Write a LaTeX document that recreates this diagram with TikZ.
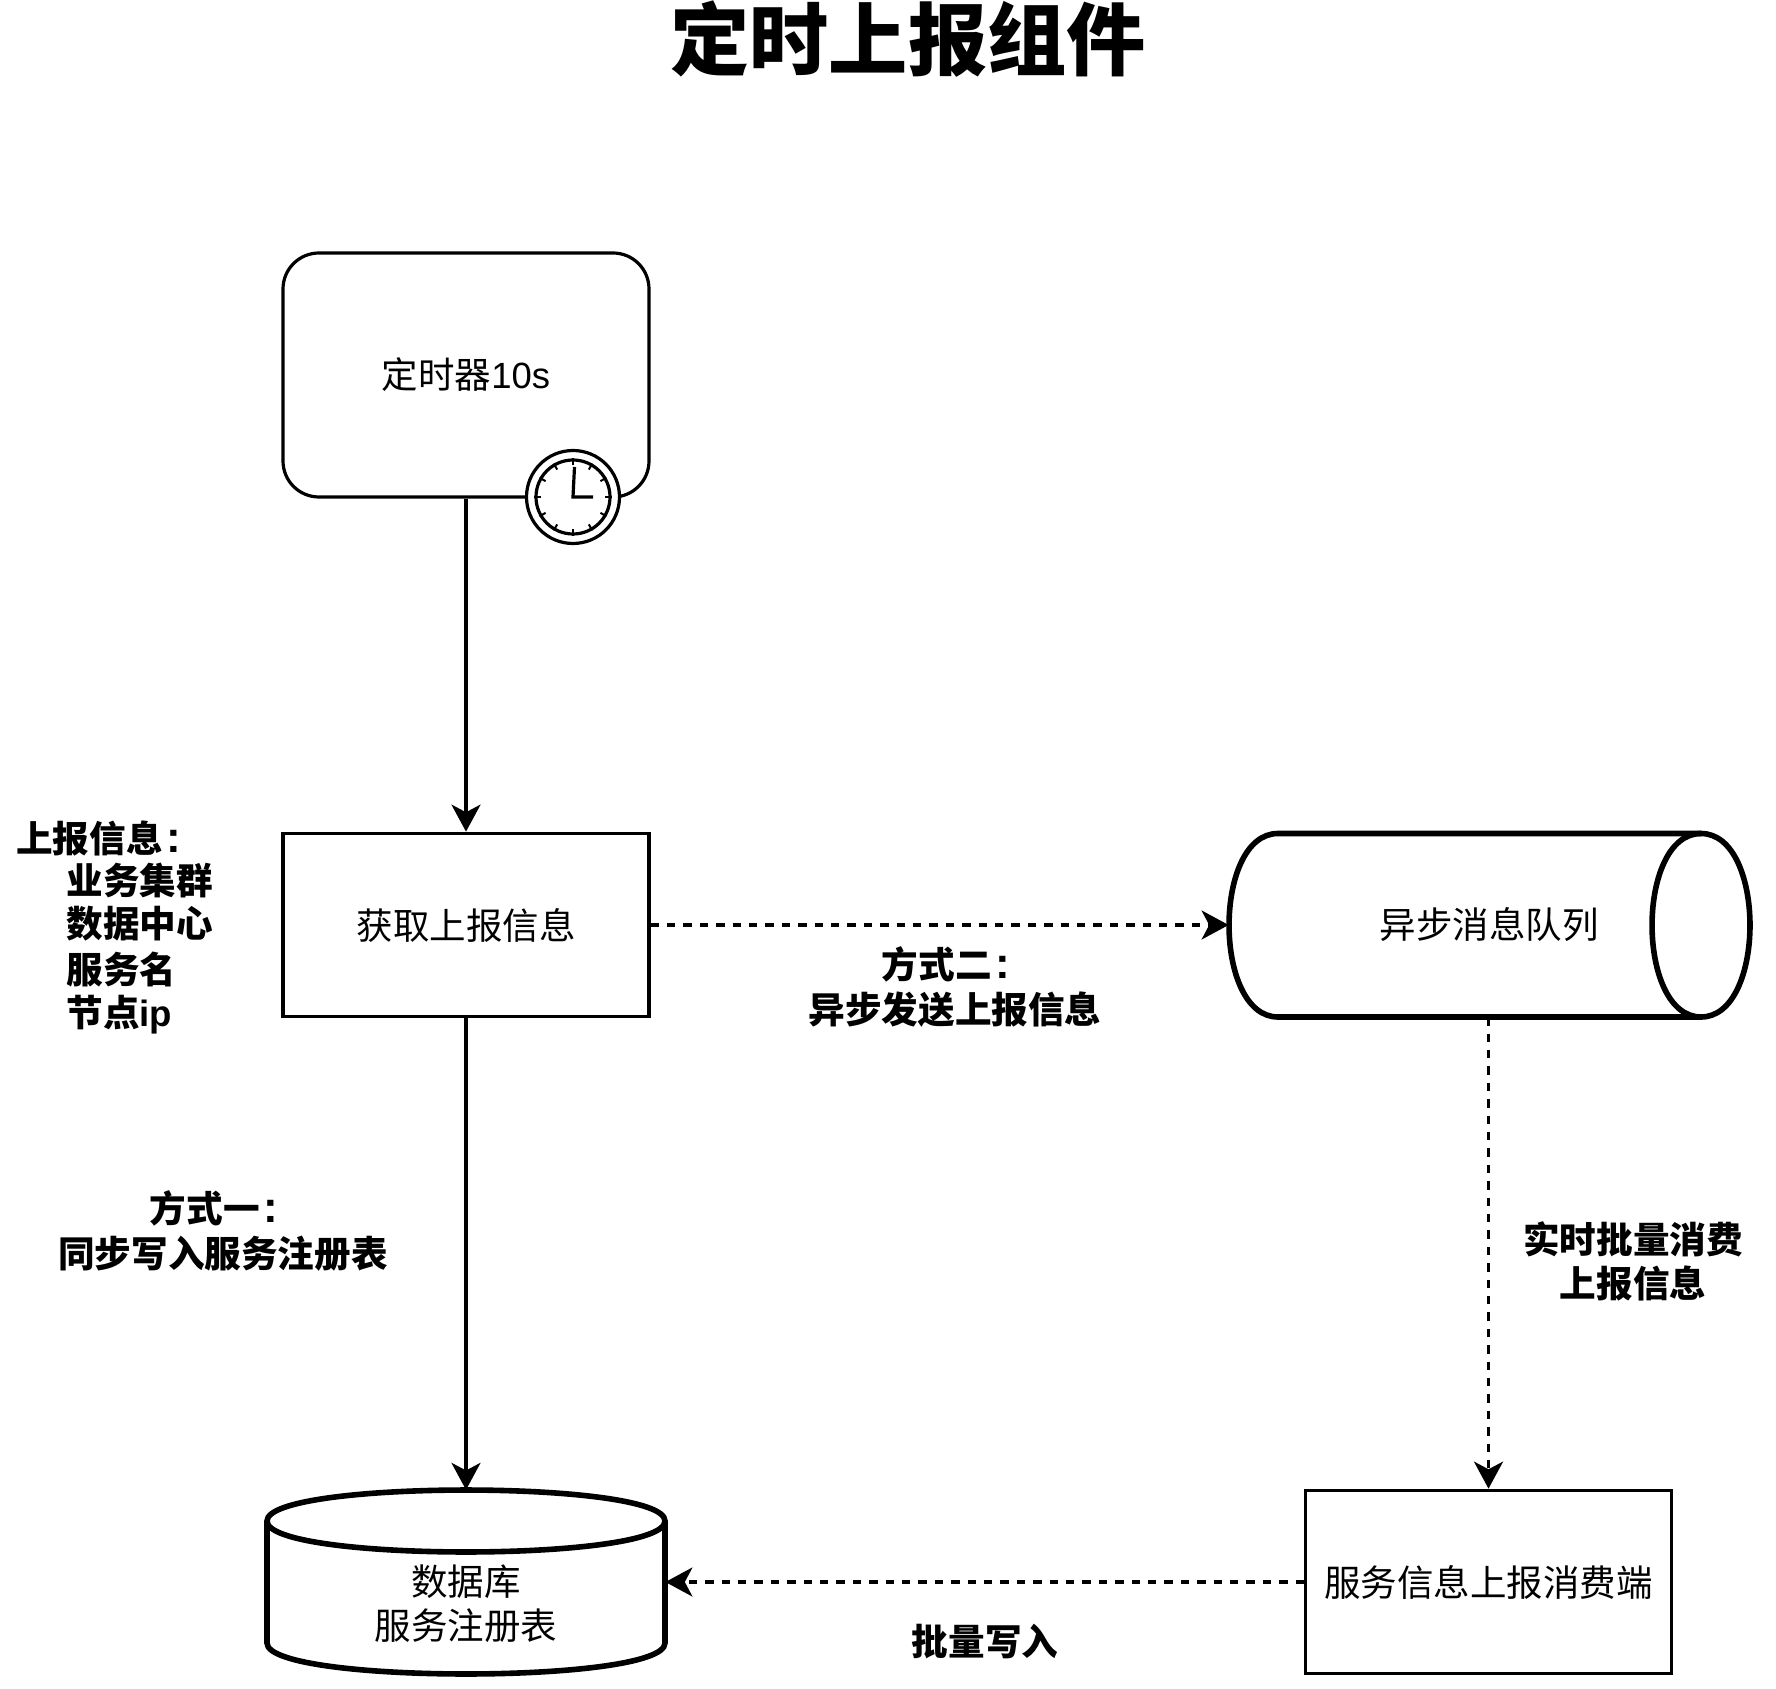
\documentclass[tikz,border=0pt]{standalone}
\usepackage{fontspec}
\usetikzlibrary{arrows.meta,calc}
\setmainfont{Liberation Sans}
\newfontfamily\cjk{Noto Sans CJK SC}
\newcommand{\wcolon}{\makebox[1em][l]{\hspace{0.1em}\rmfamily\bfseries\fontsize{22}{22}\selectfont :}}
\tikzset{
  x=0.5pt,y=-0.5pt,
  thinline/.style={line width=1.6pt,draw=black},
  thickline/.style={line width=2.8pt,draw=black},
  plainbox/.style={thinline,fill=white,minimum width=183pt,minimum height=91.75pt,inner sep=0pt},
  blank/.style={minimum width=183pt,minimum height=91.75pt,inner sep=0pt},
  body/.style={font=\fontsize{18.25}{22.1}\selectfont\cjk,align=center},
  note/.style={font=\fontsize{18.3}{22.1}\selectfont\cjk\bfseries,align=center,inner sep=0pt},
  flow/.style={thinline,-{Stealth[length=13.5pt,width=14.5pt,inset=3.8pt]}},
  dflow/.style={flow,dash pattern=on 4.2pt off 4pt},
}
\begin{document}
\begin{tikzpicture}
\useasboundingbox (0,0) rectangle (1776,1689);
% title
\node[font=\fontsize{39.6}{44}\selectfont\cjk\bfseries,inner sep=0pt] (title) at (908,39) {定时上报组件};
% timer
\node[plainbox,minimum height=122pt,rounded corners=18pt,body] (timer) at (466,375) {定时器{\rmfamily 10s}};
% fetch
\node[plainbox,body] (fetch) at (466,925) {获取上报信息};
% queue
\node[blank,minimum width=260.5pt,body] (queue) at (1489.5,925) {};
\draw[thickline,fill=white] (1278,833.5) -- (1701,833.5)
  .. controls (1766.3,833.5) and (1766.3,1017) .. (1701,1017)
  -- (1278,1017)
  .. controls (1212.7,1017) and (1212.7,833.5) .. (1278,833.5) -- cycle;
\draw[thickline] (1701,833.5) .. controls (1635.7,833.5) and (1635.7,1017) .. (1701,1017);
\node[body] (queuetext) at (1489,925) {异步消息队列};
% database
\node[blank,minimum width=199pt,body] (db) at (466,1582) {};
\draw[thickline,fill=white] (267,1521)
  .. controls (267,1479.7) and (665,1479.7) .. (665,1521)
  -- (665,1643)
  .. controls (665,1684.3) and (267,1684.3) .. (267,1643) -- cycle;
\draw[thickline] (267,1521) .. controls (267,1562.3) and (665,1562.3) .. (665,1521);
\node[body] (dbtext) at (466,1604) {数据库\\服务注册表};
% consumer
\node[plainbox,body] (consumer) at (1488.5,1582) {服务信息上报消费端};
% connectors
\draw[flow] (timer.south) -- (fetch.north);
\draw[flow] (fetch.south) -- (db.north);
\draw[dflow] (fetch.east) -- (queue.west);
\draw[dflow] (queue.south -| consumer.north) -- (consumer.north);
\draw[dflow] (consumer.west) -- (db.east);
% clock
\node[circle,thinline,fill=white,minimum size=46.5pt,inner sep=0pt] (clockout) at (573,497) {};
\node[circle,thinline,fill=white,minimum size=37pt,inner sep=0pt] (clockin) at (573,497) {};
\foreach \a in {0,30,...,330}
  \draw[line width=1pt] (clockin.\a) -- ($(clockin.center)!0.82!(clockin.\a)$);
\draw[thinline] (574.5,467) -- (573,497) -- (593,497);
% labels
\node[note,align=left,anchor=north west] (info) at (16,820) {上报信息\wcolon\\[-1pt]\hspace*{25pt}业务集群\\[-0.5pt]\hspace*{25pt}数据中心\\[1pt]\hspace*{25pt}服务名\\[-0.5pt]\hspace*{25pt}节点{\rmfamily\bfseries ip}};
\node[note] (way1) at (223,1231) {方式一\wcolon\\同步写入服务注册表};
\node[note] (way2) at (955,987) {方式二\wcolon\\异步发送上报信息};
\node[note] (consume) at (1633,1261) {实时批量消费\\上报信息};
\node[note] (batch) at (985,1642) {批量写入};
\end{tikzpicture}
\end{document}
